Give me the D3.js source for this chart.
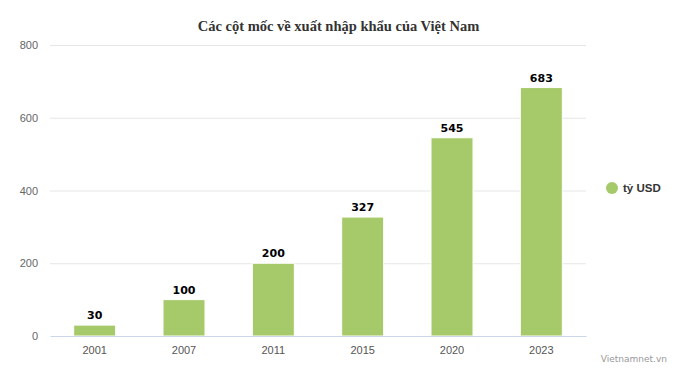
<!DOCTYPE html>
<html>
<head>
<meta charset="utf-8">
<script src="https://cdn.jsdelivr.net/npm/d3@7"></script>
<style>
  body { margin: 0; background: #fff; }
  svg { font-family: "Lucida Grande", "DejaVu Sans", Verdana, sans-serif; }
</style>
</head>
<body>
<div id="chart"></div>
<script>
// dữ liệu
const years = ['2001', '2007', '2011', '2015', '2020', '2023'];
const values = [30, 100, 200, 327, 545, 683];
const yTicks = [0, 200, 400, 600, 800];
const seriesName = 'tỷ USD';
const title = 'Các cột mốc về xuất nhập khẩu của Việt Nam';

const width = 677, height = 385;
const plot = { left: 50, right: 586, top: 45, bottom: 336 };

const svg = d3.select('#chart').append('svg')
    .attr('width', width)
    .attr('height', height);

const x = d3.scaleBand()
    .domain(years)
    .range([plot.left, plot.right])
    .paddingInner(0.53)
    .paddingOuter(0.265);

const y = d3.scaleLinear()
    .domain([0, 800])
    .range([plot.bottom, plot.top]);

// lưới ngang
svg.append('g')
    .selectAll('line')
    .data(yTicks.filter(d => d > 0))
    .enter().append('line')
    .attr('x1', plot.left).attr('x2', plot.right)
    .attr('y1', d => y(d) + 0.5).attr('y2', d => y(d) + 0.5)
    .style('stroke', '#e6e6e6');

// trục y
const yAxis = svg.append('g')
    .attr('transform', `translate(${plot.left - 12},0)`)
    .call(d3.axisLeft(y).tickValues(yTicks).tickSize(0).tickPadding(0));
yAxis.select('.domain').remove();
yAxis.selectAll('text')
    .attr('dy', '0.32em')
    .style('font-size', '11px')
    .style('fill', '#666');

// cột
svg.append('g')
    .selectAll('rect')
    .data(values)
    .enter().append('rect')
    .attr('x', (d, i) => x(years[i]))
    .attr('y', d => y(d))
    .attr('width', x.bandwidth())
    .attr('height', d => plot.bottom - y(d))
    .style('fill', '#a6ca6a')
    .style('stroke', '#fff')
    .style('stroke-width', 1);

// trục x
const xAxis = svg.append('g')
    .attr('transform', `translate(0,${plot.bottom})`)
    .call(d3.axisBottom(x).tickSize(0).tickPadding(10));
xAxis.select('.domain').style('stroke', '#ccd6eb');
xAxis.selectAll('text')
    .style('font-size', '11px')
    .style('fill', '#555');

// nhãn giá trị
svg.append('g')
    .selectAll('text')
    .data(values)
    .enter().append('text')
    .attr('x', (d, i) => x(years[i]) + x.bandwidth() / 2)
    .attr('y', d => y(d) - 6)
    .attr('text-anchor', 'middle')
    .style('font-size', '11px')
    .style('font-weight', 'bold')
    .style('fill', '#000')
    .style('stroke', '#fff')
    .style('stroke-width', 2)
    .style('paint-order', 'stroke')
    .style('stroke-linejoin', 'round')
    .text(d => d);

// tiêu đề
svg.append('text')
    .attr('x', width / 2)
    .attr('y', 31)
    .attr('text-anchor', 'middle')
    .style('font-family', '"Liberation Serif", "Times New Roman", serif')
    .style('font-size', '14.5px')
    .style('font-weight', 'bold')
    .style('fill', '#333')
    .text(title);

// chú giải
const legend = svg.append('g').attr('transform', 'translate(612,188)');
legend.append('circle').attr('r', 6).style('fill', '#a6ca6a');
legend.append('text')
    .attr('x', 11)
    .attr('dy', '0.35em')
    .style('font-family', '"Liberation Sans", Arial, sans-serif')
    .style('font-size', '11.5px')
    .style('font-weight', 'bold')
    .style('fill', '#333')
    .text(seriesName);

// nguồn
svg.append('text')
    .attr('x', 667)
    .attr('y', 362)
    .attr('text-anchor', 'end')
    .style('font-size', '9px')
    .style('fill', '#999')
    .text('Vietnamnet.vn');
</script>
</body>
</html>
